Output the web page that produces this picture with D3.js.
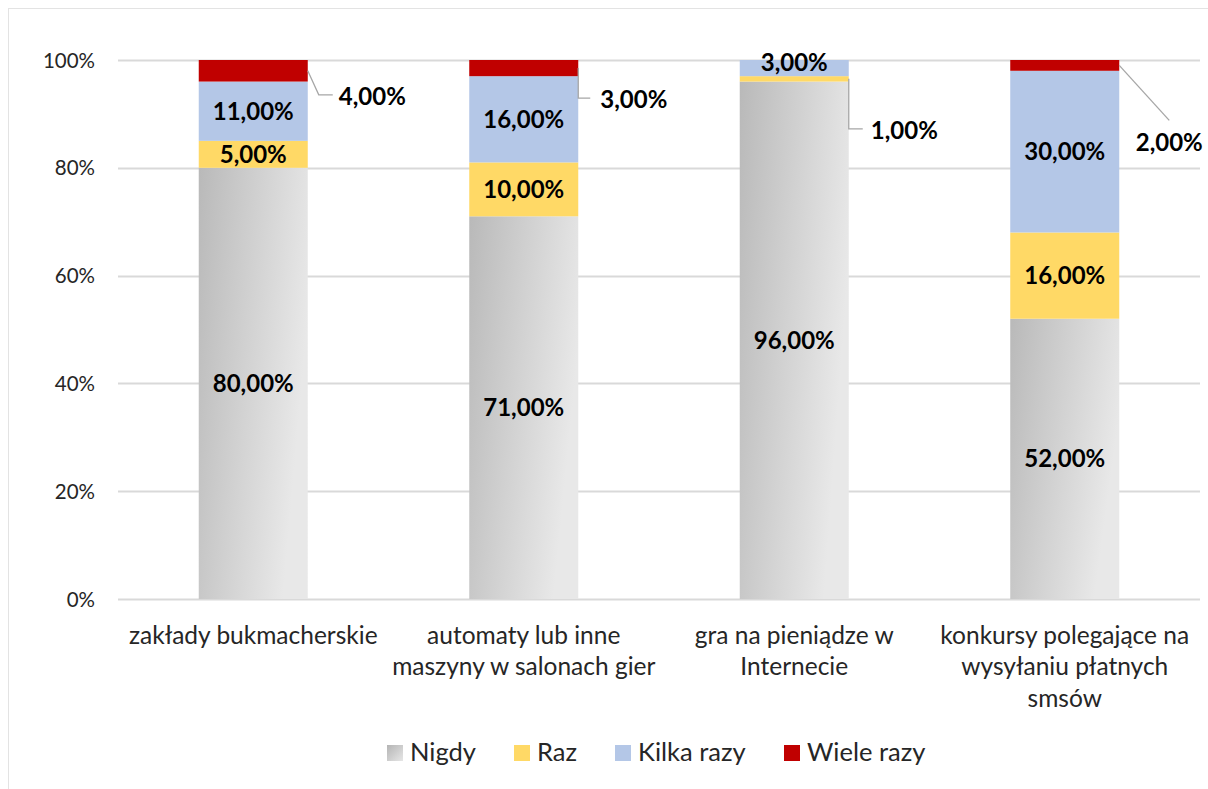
<!DOCTYPE html>
<html><head><meta charset="utf-8">
<script src="https://cdn.jsdelivr.net/npm/d3@7"></script>
<style>
html,body{margin:0;padding:0;background:#fff;}
svg{display:block;font-family:Lato, "Open Sans", sans-serif;}
</style></head>
<body>
<svg id="chart" width="1208" height="789"></svg>
<script>
const categories = [
  "zakłady bukmacherskie",
  "automaty lub inne\nmaszyny w salonach gier",
  "gra na pieniądze w\nInternecie",
  "konkursy polegające na\nwysyłaniu płatnych\nsmsów"
];
const seriesNames = ["Nigdy", "Raz", "Kilka razy", "Wiele razy"];
const nigdy = [80, 71, 96, 52];
const raz = [5, 10, 1, 16];
const kilkaRazy = [11, 16, 3, 30];
const wieleRazy = [4, 3, 0, 2];
const yTicks = [0, 20, 40, 60, 80, 100];

const seriesValues = [nigdy, raz, kilkaRazy, wieleRazy];
const colors = ["url(#gradGray)", "#FFD966", "#B4C7E7", "#C00000"];
const legendColors = ["url(#gradGrayL)", "#FFD966", "#B4C7E7", "#C00000"];

const svg = d3.select("#chart");
const W = 1208, H = 789;
const m = {left: 118, right: 8, top: 60, bottom: 190};

const defs = svg.append("defs");
const g1 = defs.append("linearGradient").attr("id","gradGray")
  .attr("x1","0").attr("y1","0").attr("x2","1").attr("y2","0.35");
g1.append("stop").attr("offset","0").attr("stop-color","#b9b9b9");
g1.append("stop").attr("offset","1").attr("stop-color","#e8e8e8");
const g2 = defs.append("linearGradient").attr("id","gradGrayL")
  .attr("x1","0").attr("y1","0").attr("x2","1").attr("y2","1");
g2.append("stop").attr("offset","0").attr("stop-color","#b4b4b4");
g2.append("stop").attr("offset","1").attr("stop-color","#e6e6e6");

// outer border
svg.append("rect").attr("x",8.5).attr("y",8.5).attr("width",1300).attr("height",900)
  .attr("fill","none").attr("stroke","#e3e3e3");

const x = d3.scaleBand().domain(categories).range([m.left, W - m.right])
  .paddingInner(0.597).paddingOuter(0.2985);
const y = d3.scaleLinear().domain([0, 100]).range([599, 60]);

// gridlines
svg.append("g").selectAll("line").data(yTicks).join("line")
  .attr("x1", m.left).attr("x2", W - m.right)
  .attr("y1", d => Math.round(y(d)) + 0.5).attr("y2", d => Math.round(y(d)) + 0.5)
  .attr("stroke", "#d9d9d9").attr("stroke-width", 2);

// y axis labels
const yAxis = d3.axisLeft(y).tickValues(yTicks).tickFormat(d => d + "%").tickSize(0).tickPadding(0);
const ya = svg.append("g").attr("transform", `translate(95,0)`).call(yAxis);
ya.select(".domain").remove();
ya.selectAll("text").attr("font-size", 20.5).attr("fill", "#262626")
  .attr("font-family", "Lato").attr("dy", "0.35em");

// stacked data
const rows = categories.map((c, i) => {
  const o = {cat: c};
  seriesNames.forEach((s, k) => o[s] = seriesValues[k][i]);
  return o;
});
const stack = d3.stack().keys(seriesNames)(rows);

const bw = x.bandwidth();
stack.forEach((layer, k) => {
  svg.append("g").selectAll("rect").data(layer).join("rect")
    .attr("x", d => x(d.data.cat)).attr("width", bw)
    .attr("y", d => y(d[1])).attr("height", d => y(d[0]) - y(d[1]))
    .attr("fill", colors[k]);
});

// data labels
const labelFmt = v => v.toFixed(2).replace(".", ",") + "%";
const labelSize = 24;
// small segments labelled outside the bar with a leader line (series-category)
const outside = {};
outside["3-0"] = {path: [[0,0],[11,24],[25,24]], tdx: 6, tdy: 2, anchor: "start"};
outside["3-1"] = {path: [[0,0],[0,30],[12,30]], tdx: 10, tdy: 2, anchor: "start"};
outside["1-2"] = {path: [[0,0],[0,50],[14,50]], tdx: 8, tdy: 2, anchor: "start"};
outside["3-3"] = {path: [[0,0],[50,55]], tdx: 0, tdy: 22, anchor: "middle"};

const lblG = svg.append("g");
stack.forEach((layer, k) => {
  layer.forEach((d, i) => {
    const v = d[1] - d[0];
    if (v <= 0) return;
    const key = `${k}-${i}`;
    const cx = x(d.data.cat) + bw / 2;
    if (outside[key]) {
      const o = outside[key];
      const ax = x(d.data.cat) + bw;
      const ay = (y(d[1]) + y(d[0])) / 2;
      const pts = o.path.map(p => [ax + p[0], ay + p[1]]);
      lblG.append("path").attr("d", d3.line()(pts)).attr("fill", "none")
        .attr("stroke", "#a6a6a6").attr("stroke-width", 1.3);
      const last = pts[pts.length - 1];
      lblG.append("text").attr("x", last[0] + o.tdx).attr("y", last[1] + o.tdy)
        .attr("dy", "0.35em").attr("text-anchor", o.anchor)
        .attr("font-size", labelSize).attr("font-weight", "bold").attr("fill", "#000")
        .text(labelFmt(v));
    } else {
      let cy = (y(d[0]) + y(d[1])) / 2;
      if ((y(d[0]) - y(d[1])) < 22 && y(d[1]) <= y(100) + 1) cy = y(d[1]) + 3;
      lblG.append("text").attr("x", cx).attr("y", cy).attr("dy", "0.35em")
        .attr("text-anchor", "middle").attr("font-size", labelSize)
        .attr("font-weight", "bold").attr("fill", "#000").text(labelFmt(v));
    }
  });
});

// category labels
const catG = svg.append("g");
categories.forEach(c => {
  const t = catG.append("text").attr("x", x(c) + bw / 2).attr("y", 635)
    .attr("text-anchor", "middle").attr("font-size", 24.5).attr("fill", "#262626");
  c.split("\n").forEach((line, j) => {
    t.append("tspan").attr("x", x(c) + bw / 2).attr("dy", j === 0 ? "0.35em" : 31.5).text(line);
  });
});

// legend
const legendX = [387, 514, 615, 784];
const lg = svg.append("g");
seriesNames.forEach((s, k) => {
  lg.append("rect").attr("x", legendX[k]).attr("y", 745).attr("width", 16).attr("height", 16)
    .attr("fill", legendColors[k]);
  lg.append("text").attr("x", legendX[k] + 23).attr("y", 752).attr("dy", "0.35em")
    .attr("font-size", 25.5).attr("fill", "#262626").text(s);
});
</script>
</body></html>
